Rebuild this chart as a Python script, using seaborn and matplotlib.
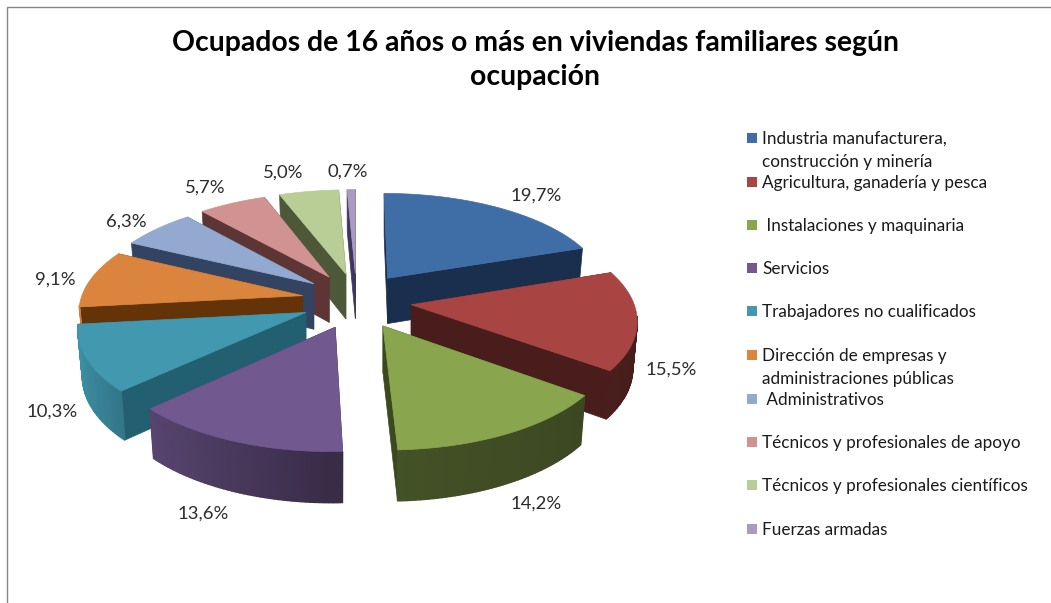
import numpy as np
import matplotlib.pyplot as plt
from matplotlib.colors import to_rgb
from matplotlib.patches import Polygon
import seaborn as sns

categories = [
    "Industria manufacturera,\nconstrucción y minería",
    "Agricultura, ganadería y pesca",
    " Instalaciones y maquinaria",
    "Servicios",
    "Trabajadores no cualificados",
    "Dirección de empresas y\nadministraciones públicas",
    " Administrativos",
    "Técnicos y profesionales de apoyo",
    "Técnicos y profesionales científicos",
    "Fuerzas armadas",
]
values = [19.7, 15.5, 14.2, 13.6, 10.3, 9.1, 6.3, 5.7, 5.0, 0.7]
title = "Ocupados de 16 años o más en viviendas familiares según\nocupación"

top_colors = ["#3F6EA6", "#A84543", "#89A54E", "#71588F", "#4198AF",
              "#DB843D", "#93A9CF", "#D19392", "#B9CD96", "#A99BBD"]
wall_colors = ["#1A2F4D", "#481D1B", "#3A4A1E", "#3E2F50", "#225F70",
               "#653308", "#324462", "#5E3535", "#4C5838", "#3E3560"]

# layout, all in pixels of the output
label_xy = [(536, 196), (671, 370), (536, 504), (203, 514), (52, 412),
            (55, 280), (126, 222), (205, 188), (283, 173), (348, 172)]
legend_y = [138, 182, 225, 268, 311, 355, 399, 442, 485, 529]
CX, CY = 356.5, 300.5
RX, RY = 222, 101
PERSP = 0.13
EXPLODE = 0.25
EXPLODE_X, EXPLODE_Y = 55, 28
DEPTH = 46
BOTTOM_SHRINK = 0.98

sns.set_theme(style="white")
plt.rcParams['font.family'] = ['Lato', 'DejaVu Sans']

fig, ax = plt.subplots(figsize=(10.51, 6.03), dpi=100, facecolor='white')
ax.set_position([0, 0, 1, 1])
ax.set_xlim(0, 1051)
ax.set_ylim(603, 0)
ax.axis('off')


def project(mid, ang, r=1.0):
    # pixel point of a slice exploded along mid, r=0 gives its tip
    dx, dy = np.sin(mid), np.cos(mid)
    X, Y = r * np.sin(ang), r * np.cos(ang)
    s = 1 / (1 + PERSP * (Y + EXPLODE * dy))
    x = CX + (EXPLODE_X * dx + RX * X) * s
    y = CY - (EXPLODE_Y * dy + RY * Y) * s
    return x, y, DEPTH * s ** 0.6


def draw_slice(start, end, top, wall):
    mid = (start + end) / 2
    tx, ty, td = project(mid, mid, 0.0)
    n = max(int(np.degrees(end - start)), 2)
    angs = np.linspace(start, end, n + 1)
    xs, ys, ds = project(mid, angs)
    bx = tx + (xs - tx) * BOTTOM_SHRINK
    by = ys + ds
    base = np.array(to_rgb(top))
    # the two cut walls
    for k in (0, -1):
        ax.add_patch(Polygon([(tx, ty), (xs[k], ys[k]), (bx[k], by[k]), (tx, ty + td)],
                             facecolor=wall, edgecolor=wall, lw=0.5))
    # outer wall, only the part that faces us, shaded strip by strip
    for i in range(n):
        if np.cos(angs[i]) > -0.11 and np.cos(angs[i + 1]) > -0.11:
            continue
        shade = np.interp(np.sin(angs[i]), [-1, -0.73, 0, 1], [0.95, 0.78, 0.5, 0.42])
        c = base * shade
        ax.add_patch(Polygon([(xs[i], ys[i]), (xs[i + 1], ys[i + 1]),
                              (bx[i + 1], by[i + 1]), (bx[i], by[i])],
                             facecolor=c, edgecolor=c, lw=1.0))
    # top face
    ax.add_patch(Polygon([(tx, ty)] + list(zip(xs, ys)), facecolor=top, edgecolor=top, lw=0.5))


shares = np.array(values) / sum(values) * 2 * np.pi
ends = np.cumsum(shares)
starts = ends - shares
# paint from the back of the pie to the front
for i in np.argsort(-np.cos((starts + ends) / 2)):
    draw_slice(starts[i], ends[i], top_colors[i], wall_colors[i])

for v, (x, y) in zip(values, label_xy):
    ax.text(x, y, f"{v:.1f}%".replace('.', ','), ha='center', va='center',
            fontsize=13.3, color='#2b2b2b')

sns.scatterplot(x=[752] * len(legend_y), y=legend_y, hue=categories,
                palette=top_colors, marker='s', s=60, linewidth=0, legend=False, ax=ax)
for name, y in zip(categories, legend_y):
    for j, line in enumerate(name.split("\n")):
        ax.text(762, y + 1 + j * 23, line, ha='left', va='center', fontsize=12.3, color='#1a1a1a')

ax.text(535, 60, title, ha='center', va='center', fontsize=20.45, fontweight='bold',
        color='black', linespacing=1.4)

ax.plot([7, 7, 1051], [603, 7, 7], color='#868686', lw=1.0, solid_joinstyle='miter')

fig.savefig('out.png', dpi=100, facecolor='white')
plt.close(fig)
